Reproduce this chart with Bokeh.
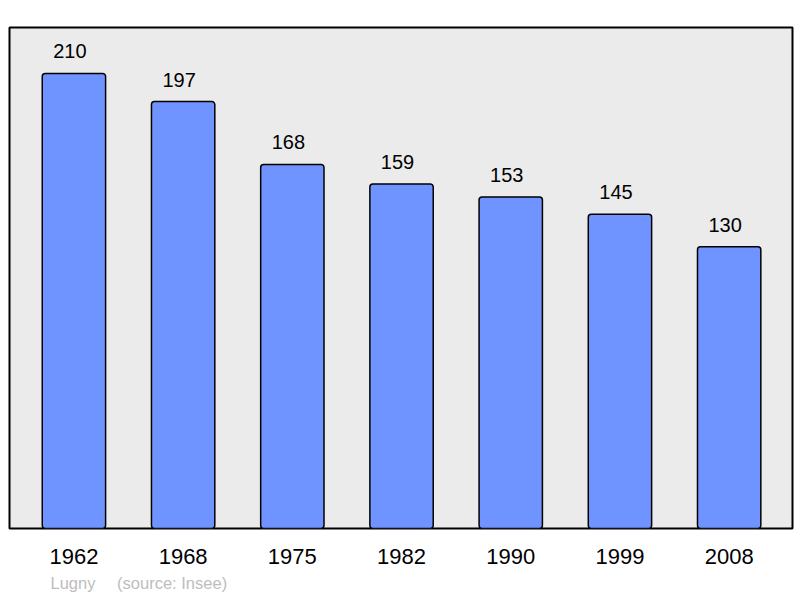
from bokeh.plotting import figure
from bokeh.models import ColumnDataSource, Range1d, Title, FixedTicker
from bokeh.core.properties import value
from bokeh.embed import file_html
from bokeh.resources import INLINE

years = ["1962", "1968", "1975", "1982", "1990", "1999", "2008"]
population = [210, 197, 168, 159, 153, 145, 130]
footer = "Lugny\u00a0\u00a0\u00a0\u00a0\u2009(source: Insee)"

xs = list(range(len(years)))
src = ColumnDataSource(dict(x=xs, y=population, lbl=[str(v) for v in population]))

p = figure(width=800, height=598, output_backend="svg", toolbar_location=None,
           x_range=Range1d(-0.59, 6.58), y_range=Range1d(0, 231.2),
           min_border_left=9, min_border_right=8, min_border_top=27, min_border_bottom=70)
p.background_fill_color = "#ebebeb"
p.border_fill_color = "white"
p.outline_line_color = "black"
p.outline_line_width = 2
p.grid.visible = False
p.yaxis.visible = False

p.vbar(x="x", top="y", width=0.58, bottom=0, source=src, fill_color="#7094ff",
       line_color="black", line_width=1.5, border_radius=3)
p.text(x="x", y="y", text="lbl", source=src, text_align="center", text_baseline="bottom",
       x_offset=-4, y_offset=-15, text_font=value("Liberation Sans"), text_font_size="20px",
       text_color="black")

ax = p.xaxis[0]
ax.ticker = FixedTicker(ticks=xs)
ax.major_label_overrides = {i: y for i, y in enumerate(years)}
ax.axis_line_color = None
ax.major_tick_line_color = None
ax.minor_tick_line_color = None
ax.major_label_text_font = "Liberation Sans"
ax.major_label_text_font_size = "22px"
ax.major_label_text_color = "black"
ax.major_label_standoff = 14

t = Title(text=footer, align="left", offset=41, text_font="Liberation Sans",
          text_font_size="16.5px", text_font_style="normal", text_color="#bdbdbd")
p.add_layout(t, "below")

open("out.html", "w").write(file_html(p, INLINE))
